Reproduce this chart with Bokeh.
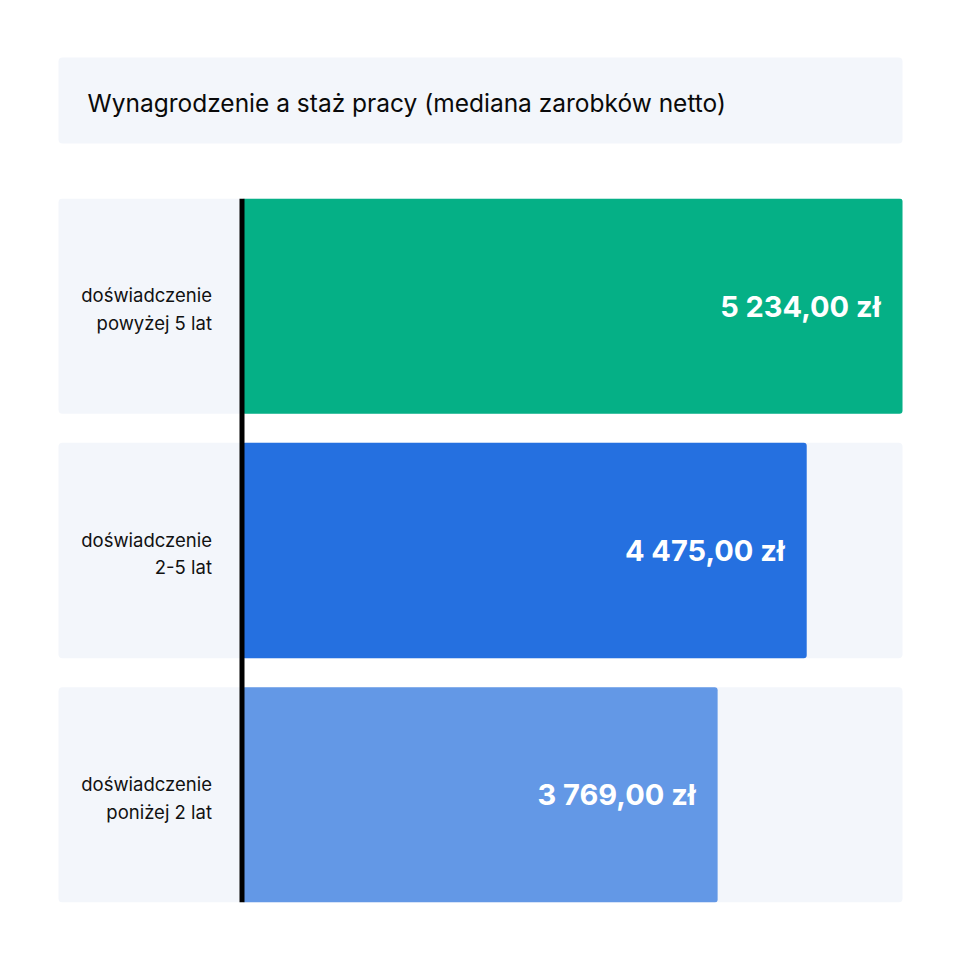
from bokeh.plotting import figure
from bokeh.models import Range1d, FactorRange, Span, ColumnDataSource
from bokeh.layouts import column
from bokeh.core.properties import value
from bokeh.embed import file_html
from bokeh.resources import INLINE

# ---- data ----
title_text = "Wynagrodzenie a staż pracy (mediana zarobków netto)"
categories = ["doświadczenie\npowyżej 5 lat", "doświadczenie\n2-5 lat", "doświadczenie\nponiżej 2 lat"]
values = [5234, 4475, 3769]
value_labels = ["5 234,00 zł", "4 475,00 zł", "3 769,00 zł"]
colors = ["#05b086", "#2570e0", "#6398e6"]

# ---- layout constants (pixels) ----
W = 960
TITLE_H = 170
BARS_H = 790
PANEL_L = 58
PANEL_R = 902
ZERO_PX = 241.5
PANEL_BG = "#f3f6fb"

# ---- title figure ----
t = figure(width=W, height=TITLE_H, output_backend="svg", toolbar_location=None,
           x_range=Range1d(0, W), y_range=Range1d(TITLE_H, 0),
           min_border=0, min_border_left=0, min_border_right=0,
           min_border_top=0, min_border_bottom=0)
t.axis.visible = False
t.grid.visible = False
t.outline_line_color = None
t.background_fill_color = "white"
t.border_fill_color = "white"
t.quad(left=[PANEL_L], right=[PANEL_R], top=[57], bottom=[143],
       fill_color=PANEL_BG, line_color=None, border_radius=4)
t.text(x=[87], y=[102], text=[title_text], text_font=value("Inter"),
       text_font_size="24.5px", text_color="#0a0a0a",
       text_align="left", text_baseline="middle")

# ---- bar figure ----
k = (PANEL_R - ZERO_PX) / max(values)
x_start = -ZERO_PX / k
x_end = (W - ZERO_PX) / k
panel_left = (PANEL_L - ZERO_PX) / k

order = list(reversed(categories))
p = figure(width=W, height=BARS_H, output_backend="svg", toolbar_location=None,
           x_range=Range1d(x_start, x_end),
           y_range=FactorRange(factors=order, factor_padding=29 / 215, range_padding=0),
           min_border_left=0, min_border_right=0, min_border_top=28, min_border_bottom=58)
p.axis.visible = False
p.grid.visible = False
p.outline_line_color = None
p.background_fill_color = "white"
p.border_fill_color = "white"

src = ColumnDataSource(dict(cat=categories, val=values, lab=value_labels, col=colors,
                            left=[panel_left] * len(categories),
                            right=[max(values)] * len(categories),
                            zero=[0] * len(categories)))

p.hbar(y="cat", left="left", right="right", height=1, source=src,
       fill_color=PANEL_BG, line_color=None, border_radius=4)
p.hbar(y="cat", left="zero", right="val", height=1, source=src,
       fill_color="col", line_color=None, border_radius=3)
p.text(x="val", y="cat", text="lab", source=src, x_offset=-22,
       text_font=value("Inter"), text_font_style="bold", text_font_size="29px",
       text_color="white", text_align="right", text_baseline="middle")
p.text(x="zero", y="cat", text="cat", source=src, x_offset=-30, y_offset=3,
       text_font=value("Inter"), text_font_size="18.5px", text_color="#111111",
       text_align="right", text_baseline="middle", text_line_height=1.25)
p.add_layout(Span(location=0, dimension="height", line_color="black", line_width=5))

layout = column(t, p, spacing=0)
open("out.html", "w").write(file_html(layout, INLINE))
